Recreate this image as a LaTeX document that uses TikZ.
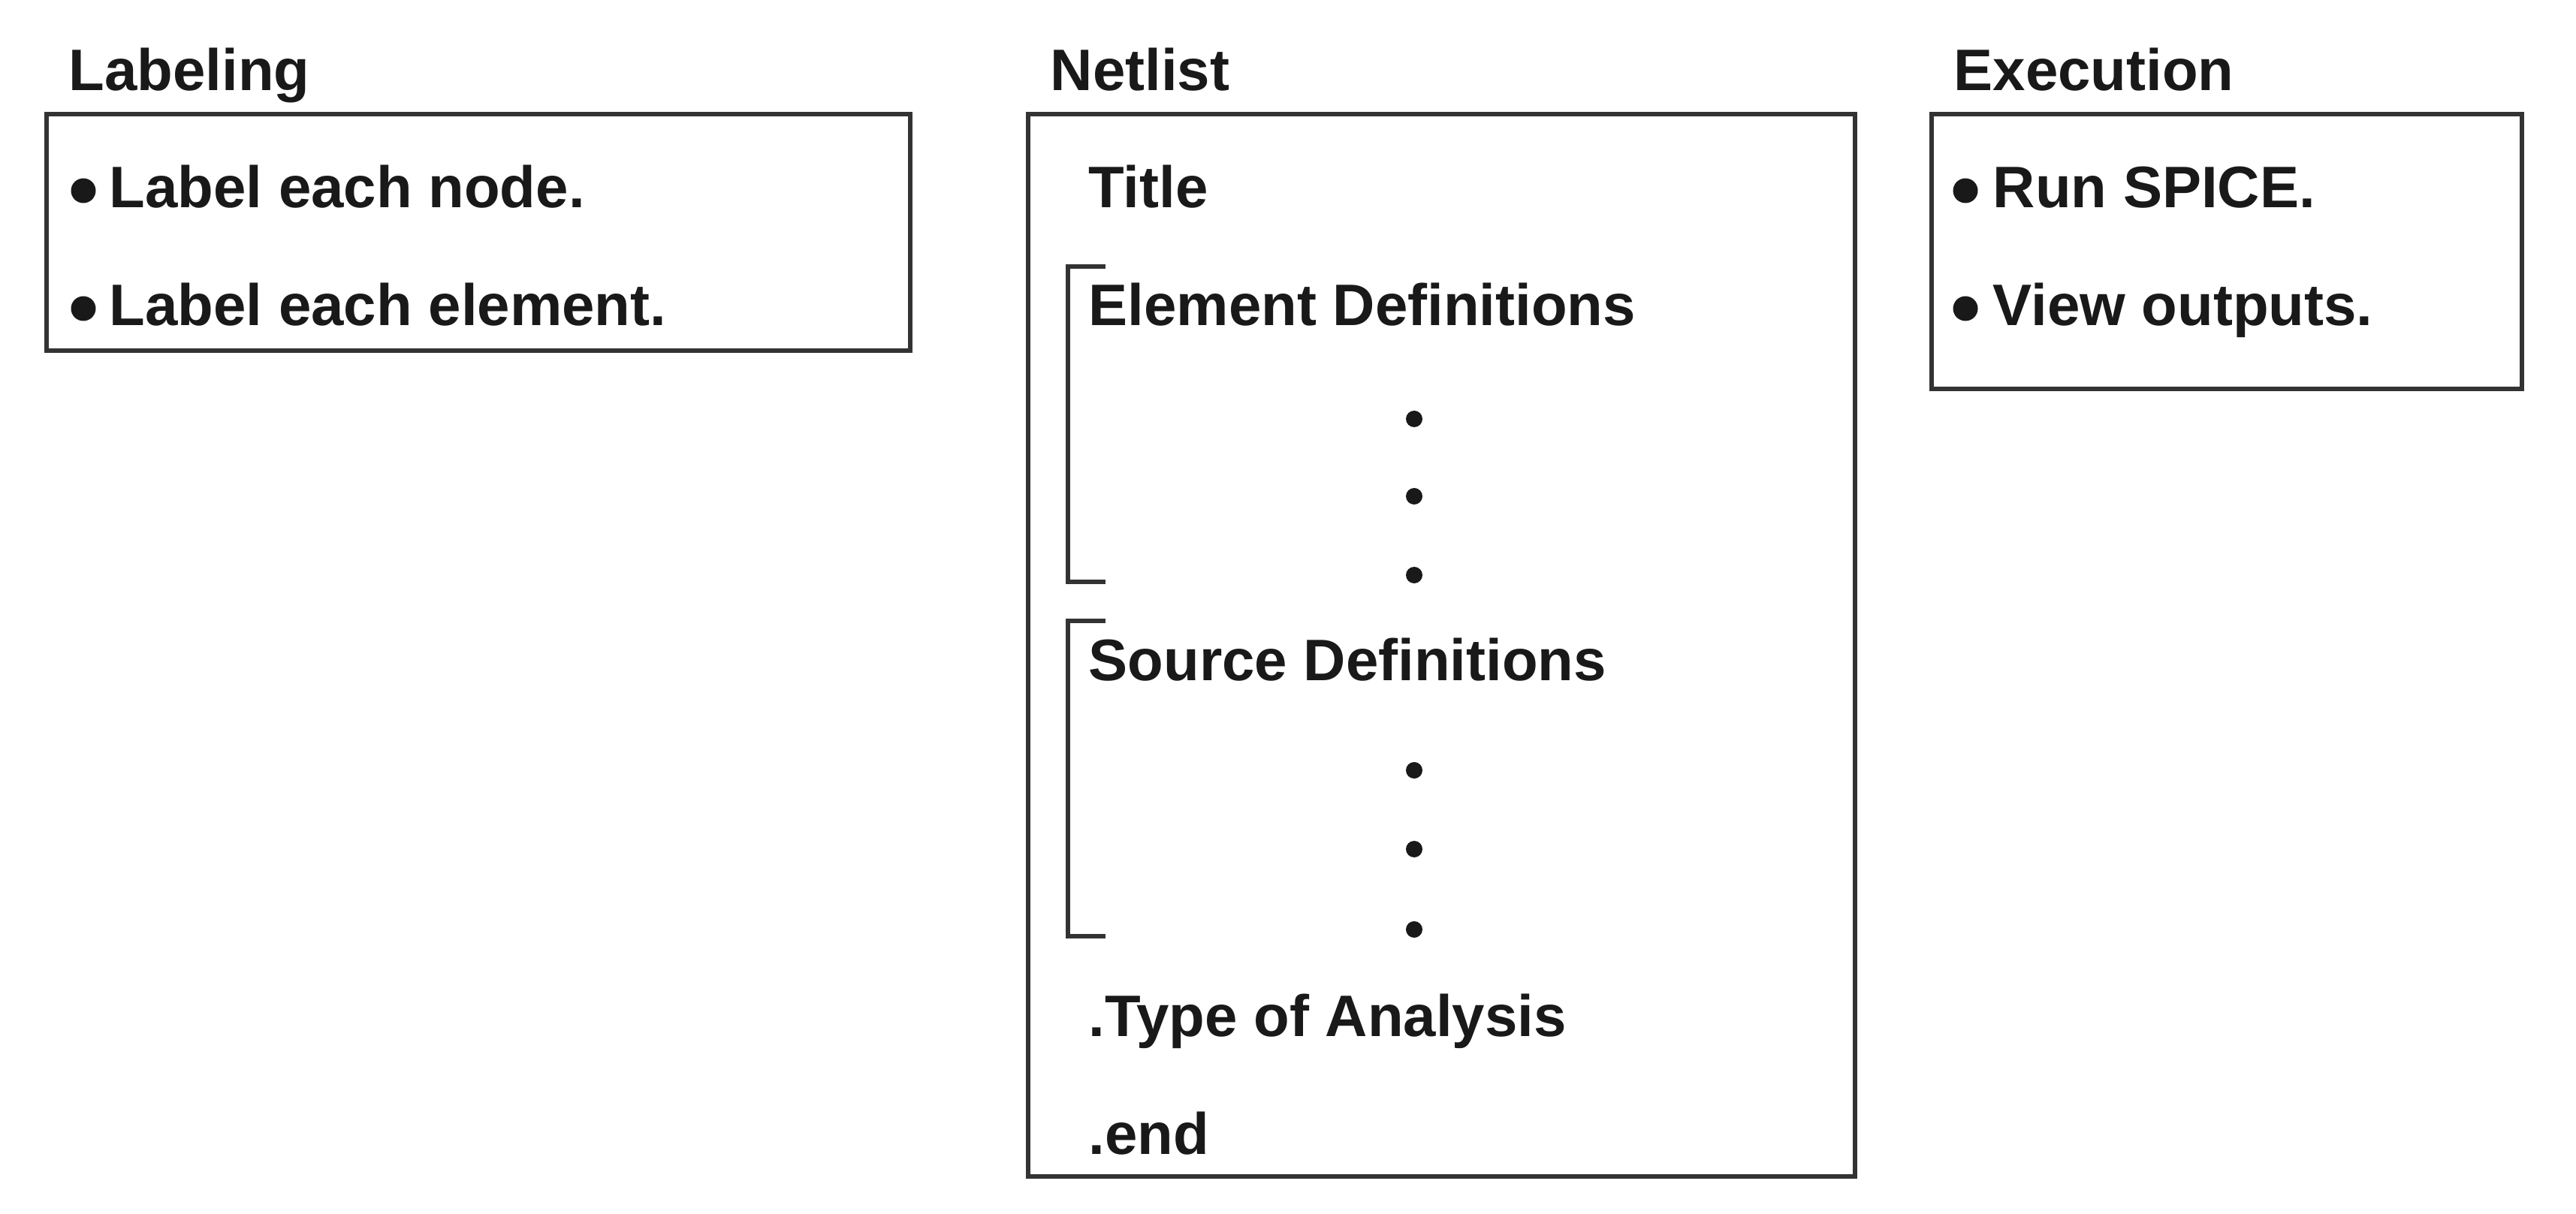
\documentclass[tikz,border=0pt]{standalone}
\usepackage{fontspec}
\setmainfont{Liberation Sans}
\usepackage{tikz}

\begin{document}
\begin{tikzpicture}[
		frame/.style={line width=1.6pt, color=black!80},
		heading/.style={anchor=base west, inner sep=0pt, text=black!90, font=\fontsize{22.2}{26}\selectfont\bfseries},
		entry/.style={heading},
		bulletmark/.style={fill=black!90},
		dotmark/.style={fill=black!90}
	]
			%%%%% START %%%%%
			
			\useasboundingbox (0, 0) rectangle (34.30, 16.16);
			
			% labeling
			\node[heading] (labhead) at (0.91, 14.95) {Labeling};
			\draw[frame] (0.62, 14.64) rectangle (12.12, 11.49);
			\fill[bulletmark] (1.11, 13.62) circle (0.165);
			\node[entry] (labnode) at (1.45, 13.39) {Label each node.};
			\fill[bulletmark] (1.11, 12.05) circle (0.165);
			\node[entry] (labelem) at (1.45, 11.82) {Label each element.};
			
			% netlist
			\node[heading] (nethead) at (13.98, 14.95) {Netlist};
			\draw[frame] (13.69, 14.64) rectangle (24.70, 0.49);
			\node[entry] (nettitle) at (14.49, 13.39) {Title};
			
			\draw[frame] (14.72, 12.61) -- (14.22, 12.61) -- (14.22, 8.41) -- (14.72, 8.41);
			\node[entry] (netelem) at (14.49, 11.82) {Element Definitions};
			\fill[dotmark] (18.83, 10.58) circle (0.11);
			\fill[dotmark] (18.83, 9.55) circle (0.11);
			\fill[dotmark] (18.83, 8.50) circle (0.11);
			
			\draw[frame] (14.72, 7.89) -- (14.22, 7.89) -- (14.22, 3.69) -- (14.72, 3.69);
			\node[entry] (netsrc) at (14.49, 7.09) {Source Definitions};
			\fill[dotmark] (18.83, 5.90) circle (0.11);
			\fill[dotmark] (18.83, 4.85) circle (0.11);
			\fill[dotmark] (18.83, 3.78) circle (0.11);
			
			\node[entry] (nettype) at (14.49, 2.36) {.Type of Analysis};
			\node[entry] (netend) at (14.49, 0.79) {.end};
			
			% execution
			\node[heading] (exehead) at (26.01, 14.95) {Execution};
			\draw[frame] (25.72, 14.64) rectangle (33.58, 10.98);
			\fill[bulletmark] (26.17, 13.62) circle (0.165);
			\node[entry] (exerun) at (26.53, 13.39) {Run SPICE.};
			\fill[bulletmark] (26.17, 12.05) circle (0.165);
			\node[entry] (exeview) at (26.53, 11.82) {View outputs.};
			
			%%%%% END %%%%%
\end{tikzpicture}
\end{document}
